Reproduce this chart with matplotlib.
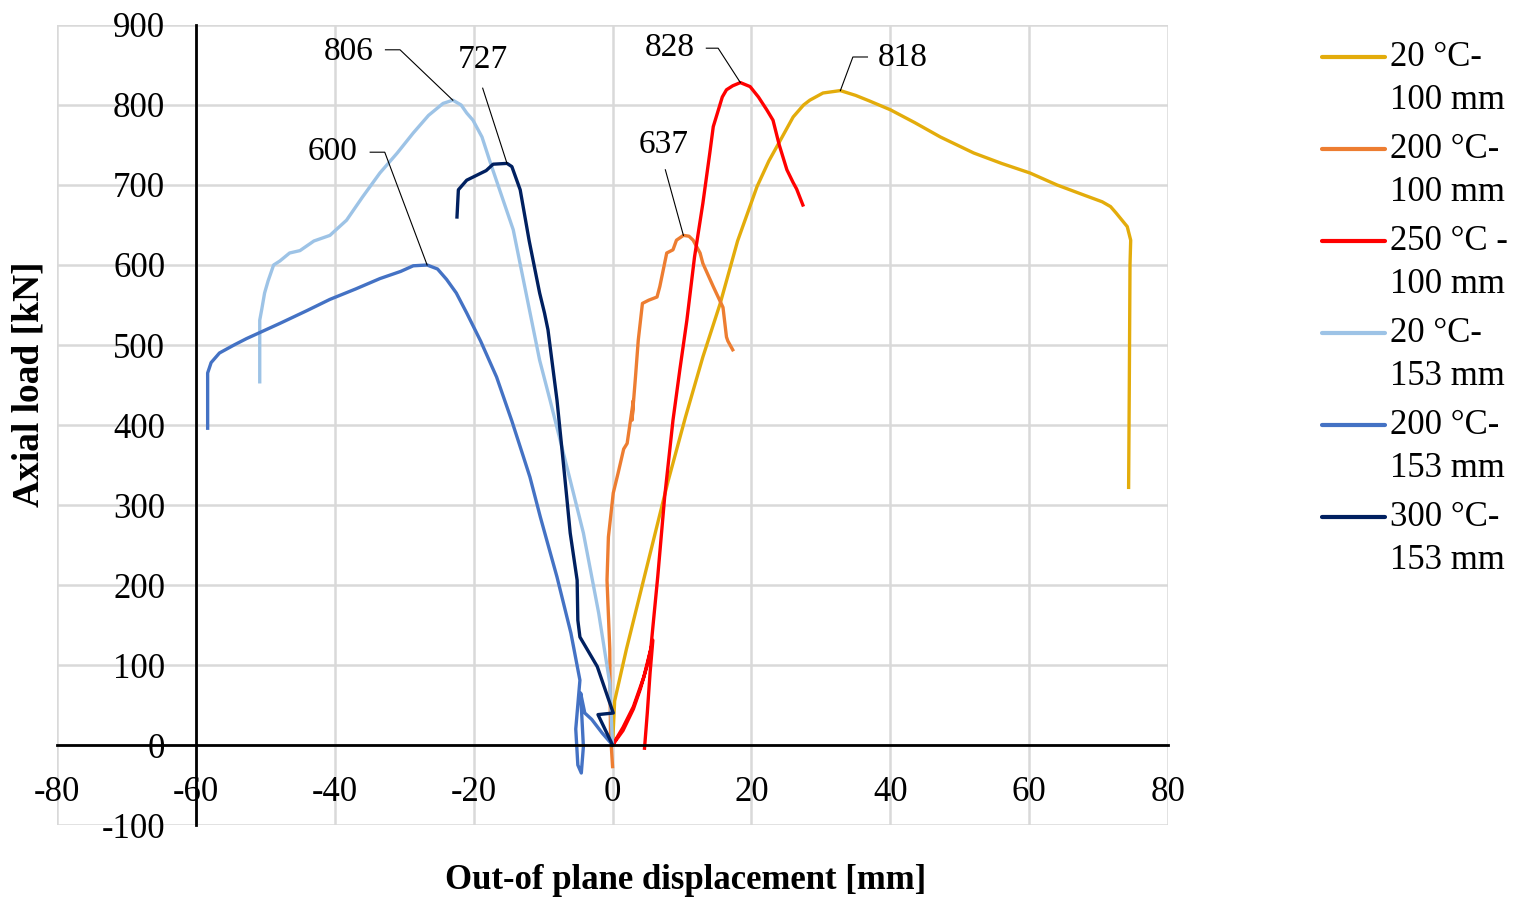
import numpy as np
import matplotlib.pyplot as plt

plt.rcParams['font.family'] = ['Liberation Serif', 'DejaVu Serif']
plt.rcParams['axes.unicode_minus'] = False

# 20 C - 100 mm
x_20_100 = [0, 0.3, 2, 5, 8, 10.5, 13, 15.5, 18, 20.8, 22.5, 24.1, 26, 27.5, 28.4, 30.3, 32.8, 35, 37, 40,
            43.5, 47.2, 52, 56, 60.1, 64, 68, 70.5, 71.7, 72.5, 74.1, 74.6, 74.5, 74.4, 74.3]
y_20_100 = [0, 55, 120, 225, 330, 410, 485, 552, 630, 698, 730, 755, 785, 800, 806, 815, 818, 812, 805, 794,
            778, 760, 740, 727, 715, 700, 687, 679, 673, 665, 648, 631, 600, 450, 322]

# 200 C - 100 mm
x_200_100 = [0, -0.3, -0.4, -0.8, -0.6, 0.1, 0.8, 1.6, 2.1, 3.0, 2.8, 3.3, 3.7, 4.3, 5.2, 6.4, 6.8, 7.8, 8.7, 9.2,
             10.2, 11.0, 11.6, 12.6, 13.0, 14.5, 15.9, 16.4, 16.6, 17.3]
y_200_100 = [-27, 15, 120, 206, 260, 315, 340, 370, 377, 431, 406, 460, 506, 552, 556, 560, 573, 615, 619, 631,
             637, 636, 631, 615, 602, 573, 547, 510, 505, 494]

# 250 C - 100 mm
x_250_100 = [4.6, 5.0, 5.4, 5.8, 5.0, 4.0, 3.0, 1.5, 0, 1.5, 3.0, 4.5, 5.5, 6.5, 7.5, 8.7, 9.7, 10.7, 11.8, 13.0,
             14.0, 14.5, 15.1, 15.8, 16.4, 17.3, 18.4, 19.8, 21.0, 22.2, 23.1, 24.0, 25.1, 26.0, 26.5, 27.4]
y_250_100 = [-4, 40, 90, 131, 100, 70, 45, 18, 0, 22, 48, 85, 120, 210, 310, 406, 470, 531, 610, 677,
             740, 773, 790, 810, 819, 824, 828, 823, 810, 794, 781, 750, 719, 703, 695, 675]

# 20 C - 153 mm
x_20_153 = [-50.8, -50.8, -50.5, -50.1, -49.6, -48.8, -47.9, -46.5, -45, -43, -40.7, -38.3, -36, -33.5, -31,
            -28.7, -26.5, -24.4, -23, -21.8, -21, -20.1, -18.8, -17.6, -14.3, -10.5, -9, -6.5, -4.2, -2, -0.4, 0]
y_20_153 = [454, 531, 545, 565, 580, 600, 605, 615, 618, 630, 637, 656, 685, 715, 740,
            765, 787, 802, 806, 800, 790, 781, 760, 728, 644, 481, 431, 345, 265, 165, 77, 0]

# 200 C - 153 mm
x_200_153 = [-58.3, -58.3, -57.8, -56.6, -54.5, -52.7, -47.9, -44, -40.7, -37, -33.5, -30.5, -28.7, -26.7,
             -25.2, -23.9, -22.5, -21, -19, -16.7, -14.5, -12.9, -11.9, -10.4, -8, -6, -4.7, -5.3, -5.0, -4.5,
             -4.2, -4.6, -4.0, -3.0, -1.5, 0]
y_200_153 = [396, 465, 478, 490, 500, 508, 527, 543, 557, 570, 583, 592, 599, 600,
             595, 582, 565, 540, 505, 460, 405, 362, 335, 285, 210, 140, 81, 20, -25, -35,
             -2, 65, 40, 32, 15, 0]

# 300 C - 153 mm
x_300_153 = [-22.4, -22.2, -21.6, -21, -19.6, -18.2, -17.2, -15.2, -14.5, -13.3, -12, -10.5, -9.8, -9.3,
             -8.0, -7.0, -6.6, -6.1, -5.1, -5.0, -4.7, -2.2, -0.5, 0.1, -2.1, 0]
y_300_153 = [660, 694, 700, 706, 712, 718, 726, 727, 723, 694, 630, 565, 540, 519,
             431, 345, 310, 265, 206, 156, 135, 98, 55, 40, 38, 0]

series = [
    (x_20_100, y_20_100, '#E3AC0B', '20 °C-\n100 mm'),
    (x_200_100, y_200_100, '#ED7D31', '200 °C-\n100 mm'),
    (x_250_100, y_250_100, '#FF0000', '250 °C -\n100 mm'),
    (x_20_153, y_20_153, '#9DC3E6', '20 °C-\n153 mm'),
    (x_200_153, y_200_153, '#4472C4', '200 °C-\n153 mm'),
    (x_300_153, y_300_153, '#002060', '300 °C-\n153 mm'),
]

# peak labels
peak_vals = [818, 637, 828, 806, 600, 727]
label_pos = [(41.7, 859), (7.3, 750), (8.3, 871), (-38.0, 866), (-40.3, 741), (-18.7, 856)]
elbows = [(34.6, 860), None, (15.2, 871), (-30.6, 869), (-32.8, 741), None]
starts = [(36.7, 860), (7.6, 719), (13.5, 871), (-32.7, 869), (-34.9, 741), (-18.7, 821)]

fig = plt.figure(figsize=(15.14, 8.99), dpi=100)
ax = fig.add_axes([0.0376, 0.0823, 0.734, 0.8899])

for xs, ys, c, lab in series:
    ax.plot(xs, ys, color=c, lw=2.4, solid_joinstyle='round', zorder=3)

for i, (xs, ys, c, lab) in enumerate(series):
    k = int(np.argmax(ys))
    pts = [starts[i]]
    if elbows[i] is not None:
        pts.append(elbows[i])
    pts.append((xs[k], ys[k]))
    ax.plot([p[0] for p in pts], [p[1] for p in pts], color='black', lw=0.8, zorder=4)
    ax.text(label_pos[i][0], label_pos[i][1], str(peak_vals[i]), fontsize=24,
            ha='center', va='center', zorder=5)

ax.set_xlim(-80, 80)
ax.set_ylim(-100, 900)
ax.set_xticks(np.arange(-80, 81, 20))
ax.set_yticks(np.arange(-100, 901, 100))
ax.grid(True, color='#D9D9D9', lw=1.8, zorder=0)
ax.set_axisbelow(True)

for s in ['top', 'right']:
    ax.spines[s].set_visible(False)
ax.spines['left'].set_position(('data', -60))
ax.spines['bottom'].set_position(('data', 0))
ax.spines['left'].set_linewidth(2)
ax.spines['bottom'].set_linewidth(2)
ax.spines['left'].set_zorder(6)
ax.spines['bottom'].set_zorder(6)
ax.tick_params(axis='both', length=0, labelsize=25)
ax.tick_params(axis='x', pad=22)
ax.tick_params(axis='y', pad=22)

fig.text(0.019, 0.573, 'Axial load [kN]', rotation=90, fontsize=27, fontweight='bold',
         ha='center', va='center')
fig.text(0.453, 0.021, 'Out-of plane displacement [mm]', fontsize=25, fontweight='bold',
         ha='center', va='center')

# legend drawn by hand: handle aligned with the first text line
for i, (xs, ys, c, lab) in enumerate(series):
    top = 1 - (57 + 92 * i) / 899
    mid = 1 - (79 + 92 * i) / 899
    fig.add_artist(plt.Line2D([0.873, 0.915], [top, top], color=c, lw=3,
                              solid_capstyle='round', transform=fig.transFigure))
    fig.text(0.918, mid, lab, fontsize=25, ha='left', va='center',
             linespacing=1.42, transform=fig.transFigure)

fig.savefig('out.png', dpi=100)
